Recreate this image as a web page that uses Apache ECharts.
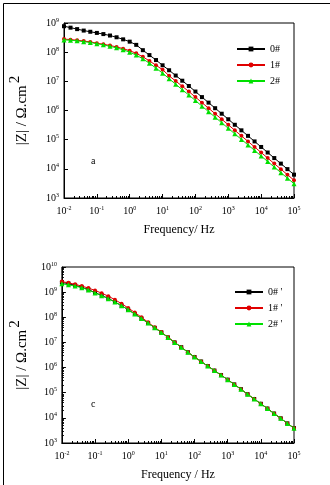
<!DOCTYPE html>
<html><head><meta charset="utf-8">
<script src="https://cdn.jsdelivr.net/npm/echarts@6/dist/echarts.min.js"></script>
<style>html,body{margin:0;padding:0;background:#fff}#c{width:330px;height:485px}</style>
</head><body><div id="c"></div>
<script>
// Frequencies (Hz), 5 points per decade
var freq = [0.01,0.0158,0.0251,0.0398,0.0631,0.1,0.158,0.251,0.398,0.631,1,1.58,2.51,3.98,6.31,10,15.8,25.1,39.8,63.1,100,158,251,398,631,1000,1580,2510,3980,6310,10000,15800,25100,39800,63100,100000];
// Chart a
var a0 = [7.76e8,6.92e8,6.17e8,5.50e8,5.01e8,4.57e8,4.17e8,3.72e8,3.24e8,2.75e8,2.29e8,1.78e8,1.17e8,7.94e7,5.37e7,3.55e7,2.40e7,1.58e7,1.05e7,6.92e6,4.47e6,2.88e6,1.86e6,1.20e6,7.76e5,5.01e5,3.24e5,2.09e5,1.35e5,8.71e4,5.62e4,3.63e4,2.34e4,1.51e4,9.77e3,6.31e3];
var a1 = [2.82e8,2.69e8,2.57e8,2.40e8,2.24e8,2.04e8,1.86e8,1.70e8,1.51e8,1.32e8,1.12e8,9.12e7,6.92e7,5.01e7,3.55e7,2.51e7,1.55e7,1.02e7,6.76e6,4.47e6,2.88e6,1.86e6,1.20e6,7.76e5,5.01e5,3.24e5,2.09e5,1.35e5,8.71e4,5.62e4,3.63e4,2.34e4,1.51e4,9.77e3,6.31e3,4.07e3];
var a2 = [2.63e8,2.57e8,2.45e8,2.29e8,2.14e8,1.95e8,1.78e8,1.58e8,1.41e8,1.20e8,1.00e8,7.94e7,5.89e7,4.17e7,2.82e7,1.91e7,1.23e7,7.94e6,5.13e6,3.39e6,2.19e6,1.41e6,9.12e5,5.89e5,3.80e5,2.45e5,1.58e5,1.02e5,6.61e4,4.27e4,2.75e4,1.78e4,1.15e4,7.41e3,4.79e3,3.09e3];
// Chart c
var c0 = [2.40e9,2.19e9,1.86e9,1.55e9,1.26e9,9.55e8,7.41e8,5.62e8,4.07e8,2.88e8,2.00e8,1.35e8,8.91e7,5.89e7,3.80e7,2.51e7,1.58e7,1.00e7,6.46e6,4.07e6,2.63e6,1.74e6,1.15e6,7.59e5,5.01e5,3.31e5,2.14e5,1.38e5,8.71e4,5.62e4,3.63e4,2.34e4,1.48e4,9.55e3,6.03e3,3.89e3];
var c1 = [2.63e9,2.34e9,2.04e9,1.74e9,1.45e9,1.17e9,9.12e8,6.92e8,5.01e8,3.47e8,2.34e8,1.55e8,1.00e8,6.31e7,3.98e7,2.57e7,1.62e7,1.02e7,6.46e6,4.07e6,2.63e6,1.74e6,1.15e6,7.59e5,5.01e5,3.31e5,2.14e5,1.38e5,8.71e4,5.62e4,3.63e4,2.34e4,1.48e4,9.55e3,6.03e3,3.89e3];
var c2 = [2.14e9,1.95e9,1.74e9,1.51e9,1.23e9,9.33e8,7.24e8,5.50e8,4.07e8,2.88e8,2.00e8,1.35e8,8.91e7,5.89e7,3.80e7,2.51e7,1.58e7,1.00e7,6.46e6,4.07e6,2.63e6,1.74e6,1.15e6,7.59e5,5.01e5,3.31e5,2.14e5,1.38e5,8.71e4,5.62e4,3.63e4,2.34e4,1.48e4,9.55e3,6.03e3,3.89e3];
var namesA = ['0#','1#','2#'];
var namesC = ["0# '","1# '","2# '"];
var panelLabels = ['a','c'];
var xTitle = ['Frequency/ Hz','Frequency / Hz'];

function pairs(ys){ return freq.map(function(f,i){ return [f, ys[i]]; }); }
var FONT = 'Liberation Serif';
var sup = {
  b:{fontFamily:FONT,fontSize:10,color:'#000'},
  s:{fontFamily:FONT,fontSize:6,color:'#000',verticalAlign:'top',padding:[0,0,6,0]}
};
function powLabel(v){
  var e = Math.round(Math.log(v)/Math.LN10);
  return '{b|10}{s|' + e + '}';
}
var colors = ['#000000','#e00000','#00e000'];
var symbols = ['rect','circle','triangle'];
var sizes = [4,4,5];
function mkSeries(names, arrs, idx){
  return arrs.map(function(arr,i){
    return {
      name:names[i], type:'line', xAxisIndex:idx, yAxisIndex:idx,
      data:pairs(arr), symbol:symbols[i], symbolSize:sizes[i],
      itemStyle:{color:colors[i]},
      lineStyle:{color:colors[i],width:1},
      z: i===0?3:(i===1?4:5), animation:false
    };
  });
}
function xAxis(idx){
  return {
    type:'log', logBase:10, min:0.01, max:100000, gridIndex:idx,
    name:xTitle[idx], nameLocation:'middle', nameGap:26,
    nameTextStyle:{fontFamily:FONT,fontSize:12,color:'#000'},
    axisLine:{lineStyle:{color:'#000'}},
    axisTick:{inside:true,length:4,lineStyle:{color:'#000'}},
    minorTick:{show:true,splitNumber:9,length:2,lineStyle:{color:'#000'}},
    axisLabel:{formatter:powLabel,rich:sup,margin:7},
    splitLine:{show:false}
  };
}
function yAxis(idx, min, max){
  return {
    type:'log', logBase:10, min:min, max:max, gridIndex:idx,
    name:'{n||Z| / Ω.cm}{t|2}', nameLocation:'middle', nameGap:idx===0?27:24,
    nameTextStyle:{rich:{
      n:{fontFamily:FONT,fontSize:15,color:'#000'},
      t:{fontFamily:FONT,fontSize:15,color:'#000',verticalAlign:'top',padding:[0,0,14,2]}
    }},
    axisLine:{lineStyle:{color:'#000'}},
    axisTick:{inside:true,length:4,lineStyle:{color:'#000'}},
    minorTick:{show:idx===1,splitNumber:9,length:2,lineStyle:{color:'#000'}},
    axisLabel:{formatter:powLabel,rich:sup,margin:5},
    splitLine:{show:false}
  };
}
var chart = echarts.init(document.getElementById('c'));
chart.setOption({
  backgroundColor:'#fff',
  animation:false,
  grid:[
    {left:63,top:23,width:231,height:175,show:true,borderColor:'#000',borderWidth:1},
    {left:57,top:267,width:237,height:176,show:true,borderColor:'#000',borderWidth:1}
  ],
  xAxis:[xAxis(0),xAxis(1)],
  yAxis:[yAxis(0,1e3,1e9),yAxis(1,1e3,1e10)],
  legend:[
    {data:namesA,left:231,top:39,orient:'vertical',itemGap:6,itemWidth:28,itemHeight:6,
     textStyle:{fontFamily:FONT,fontSize:10,color:'#000'}},
    {data:namesC,left:229,top:282,orient:'vertical',itemGap:6,itemWidth:28,itemHeight:6,
     textStyle:{fontFamily:FONT,fontSize:10,color:'#000'}}
  ],
  graphic:[
    {type:'rect',left:1,top:1,shape:{width:327,height:482},style:{fill:'none',stroke:'#000',lineWidth:1},silent:true},
    {type:'text',left:91,top:156,style:{text:panelLabels[0],font:'10px "Liberation Serif"',fill:'#000'}},
    {type:'text',left:91,top:399,style:{text:panelLabels[1],font:'10px "Liberation Serif"',fill:'#000'}}
  ],
  series:mkSeries(namesA,[a0,a1,a2],0).concat(mkSeries(namesC,[c0,c1,c2],1))
});
</script></body></html>
